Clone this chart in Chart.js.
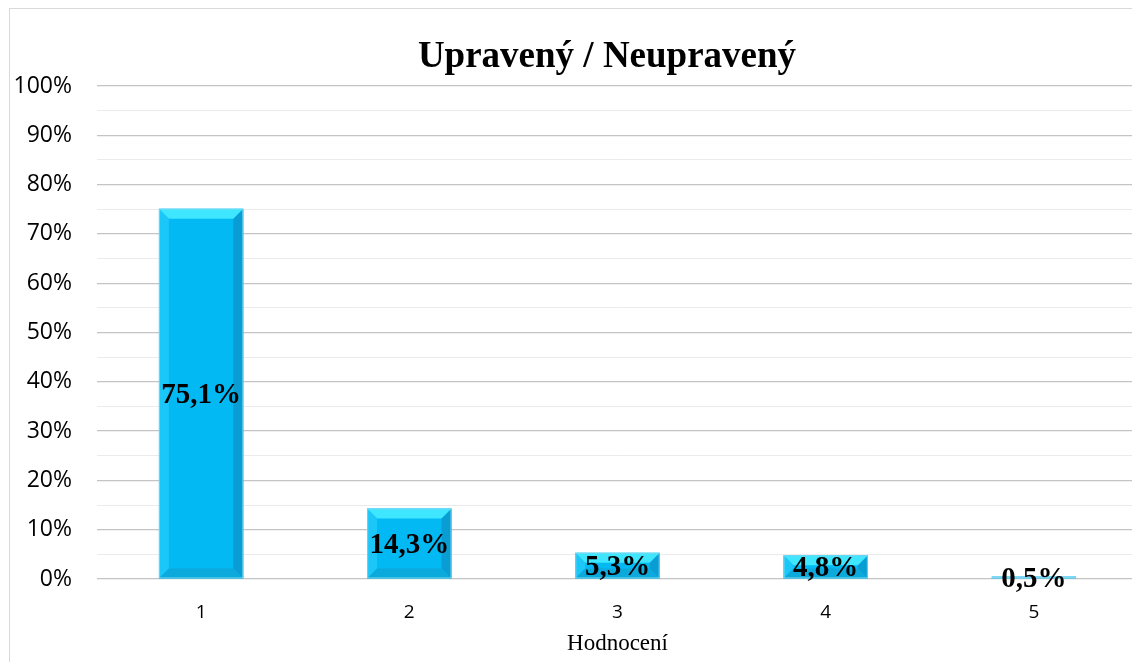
<!DOCTYPE html>
<html>
<head>
<meta charset="utf-8">
<script src="https://cdn.jsdelivr.net/npm/chart.js@4.4.1/dist/chart.umd.min.js"></script>
<style>
  html, body { margin: 0; padding: 0; background: #fff; overflow: hidden; width: 1132px; height: 662px; }
  #frame { position: absolute; left: 9px; top: 8px; width: 1300px; height: 800px; border: 1px solid #D9D9D9; box-sizing: border-box; }
  #wrap { position: absolute; left: 0; top: 0; width: 1145px; height: 662px; }
</style>
</head>
<body>
<div id="frame"></div>
<div id="wrap"><canvas id="c"></canvas></div>
<script>
const categories = ['1', '2', '3', '4', '5'];
const values = [75.1, 14.3, 5.3, 4.8, 0.5];
const valueLabels = ['75,1%', '14,3%', '5,3%', '4,8%', '0,5%'];
const titleText = 'Upravený / Neupravený';
const xTitle = 'Hodnocení';

const titlePlugin = {
  id: 'customTitle',
  afterDraw(chart) {
    const ctx = chart.ctx;
    ctx.save();
    ctx.fillStyle = '#000';
    ctx.font = 'bold 37px "Liberation Serif", "Times New Roman", serif';
    ctx.textAlign = 'center';
    ctx.textBaseline = 'alphabetic';
    ctx.fillText(titleText, 607, 67);
    ctx.restore();
  }
};

const bevelPlugin = {
  id: 'bevel',
  afterDatasetsDraw(chart) {
    const ctx = chart.ctx;
    const meta = chart.getDatasetMeta(0);
    meta.data.forEach((bar, i) => {
      const p = bar.getProps(['x', 'y', 'base', 'width'], true);
      const L = p.x - p.width / 2, R = p.x + p.width / 2;
      const T = Math.min(p.y, p.base), B = Math.max(p.y, p.base);
      const h = B - T;
      const b = Math.min(10, h / 2, p.width / 2);
      ctx.save();
      const poly = (pts, col) => {
        ctx.beginPath();
        ctx.moveTo(pts[0][0], pts[0][1]);
        for (let k = 1; k < pts.length; k++) ctx.lineTo(pts[k][0], pts[k][1]);
        ctx.closePath();
        ctx.fillStyle = col;
        ctx.fill();
      };
      if (h > 4) {
        poly([[L, T], [L, B], [L + b, B - b], [L + b, T + b]], '#1BC6F8');
        poly([[R, T], [R, B], [R - b, B - b], [R - b, T + b]], '#0A9DD3');
        poly([[L, B], [R, B], [R - b, B - b], [L + b, B - b]], '#0CA9DD');
        poly([[L, T], [R, T], [R - b, T + b], [L + b, T + b]], '#3EE6FF');
        ctx.strokeStyle = 'rgba(120,215,240,0.9)';
        ctx.lineWidth = 1;
        ctx.strokeRect(L + 0.5, T + 0.5, p.width - 1, h - 1);
      } else {
        ctx.fillStyle = '#7CD4EE';
        ctx.fillRect(L, T, p.width, Math.max(h, 2));
      }
      ctx.fillStyle = '#000';
      ctx.font = 'bold 29px "Liberation Serif", "Times New Roman", serif';
      ctx.textAlign = 'center';
      ctx.textBaseline = 'middle';
      ctx.fillText(valueLabels[i], p.x, (T + B) / 2 + 2);
      ctx.restore();
    });
  }
};

new Chart(document.getElementById('c'), {
  type: 'bar',
  data: {
    labels: categories,
    datasets: [{
      data: values,
      backgroundColor: '#02B9F3',
      borderWidth: 0,
      categoryPercentage: 1.0,
      barPercentage: 0.405
    }]
  },
  options: {
    responsive: true,
    maintainAspectRatio: false,
    animation: false,
    layout: { padding: { left: 10, right: 7, top: 86, bottom: 0 } },
    plugins: {
      legend: { display: false },
      tooltip: { enabled: false },
      title: { display: false }
    },
    scales: {
      x: {
        grid: { display: false, drawTicks: false },
        border: { display: false },
        ticks: {
          color: '#000',
          padding: 22,
          font: { family: '"Open Sans", sans-serif', size: 19 }
        },
        title: {
          display: true,
          text: xTitle,
          color: '#000',
          padding: { top: 0, bottom: 4 },
          font: { family: '"Liberation Serif", "Times New Roman", serif', size: 23 }
        },
        afterFit(scale) { scale.height = 83; }
      },
      y: {
        min: 0,
        max: 100,
        grid: {
          drawTicks: false,
          color: (c) => (c.tick && c.tick.value % 10 === 0) ? '#C4C4C4' : '#EBEBEB',
          lineWidth: (c) => (c.tick && c.tick.value % 10 === 0) ? 1.2 : 1
        },
        border: { display: false },
        ticks: {
          stepSize: 5,
          autoSkip: false,
          padding: 25,
          color: '#000',
          font: { family: '"Open Sans", sans-serif', size: 23 },
          callback: (v) => (v % 10 === 0) ? v + '%' : ''
        },
        afterFit(scale) { scale.width = 87; }
      }
    }
  },
  plugins: [bevelPlugin, titlePlugin]
});
</script>
</body>
</html>
